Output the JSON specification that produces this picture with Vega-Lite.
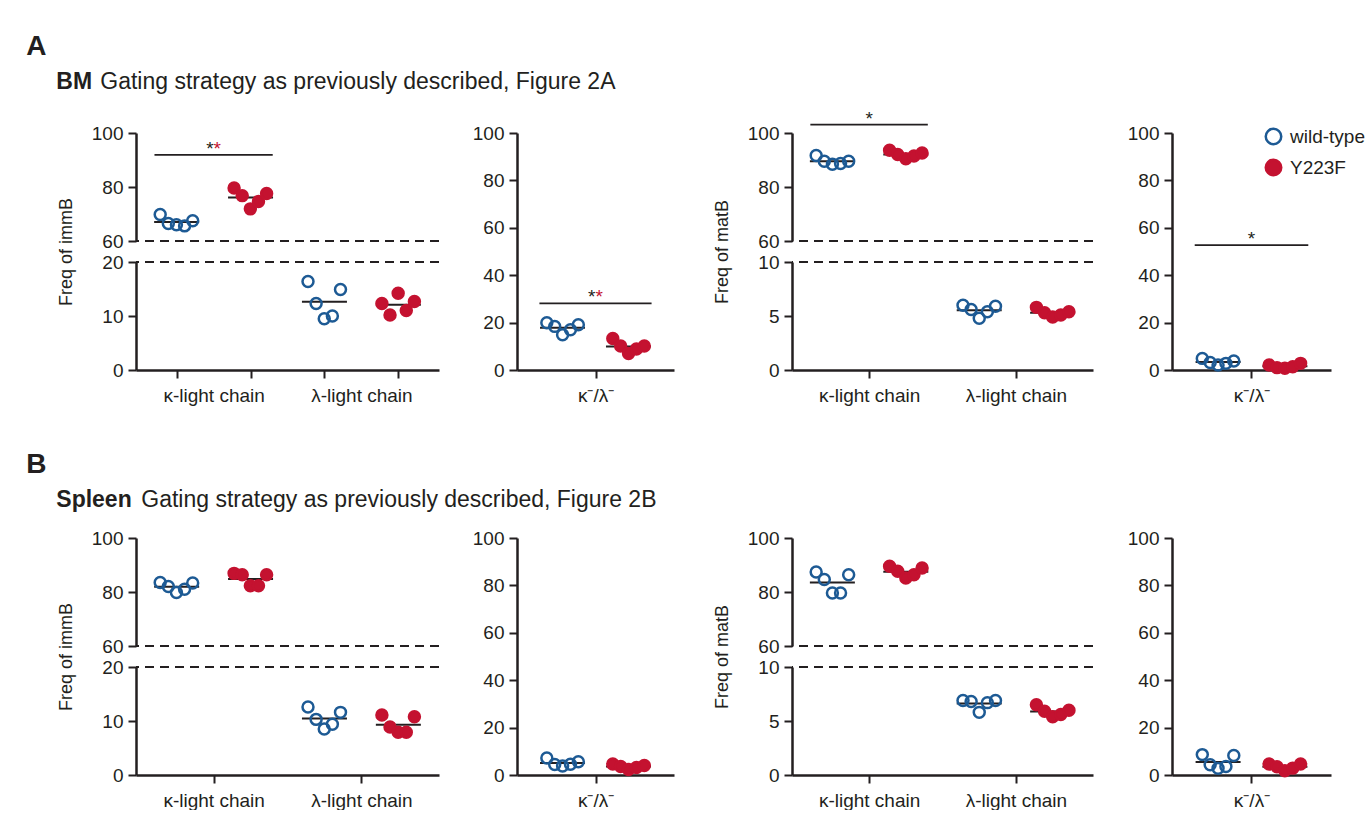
{
  "$schema": "https://vega.github.io/schema/vega-lite/v6.json",
  "padding": {"left": 26, "top": 33, "right": 0, "bottom": 0},
  "background": "white",
  "datasets": {
    "pts": [
      {"tissue":"BM","panel":"immB","chain":"κ-light chain","genotype":"wild-type","group":"κ-light chain|wild-type","mouse":1,"value":69.8},
      {"tissue":"BM","panel":"immB","chain":"κ-light chain","genotype":"wild-type","group":"κ-light chain|wild-type","mouse":2,"value":66.5},
      {"tissue":"BM","panel":"immB","chain":"κ-light chain","genotype":"wild-type","group":"κ-light chain|wild-type","mouse":3,"value":66.0},
      {"tissue":"BM","panel":"immB","chain":"κ-light chain","genotype":"wild-type","group":"κ-light chain|wild-type","mouse":4,"value":65.6},
      {"tissue":"BM","panel":"immB","chain":"κ-light chain","genotype":"wild-type","group":"κ-light chain|wild-type","mouse":5,"value":67.5},
      {"tissue":"BM","panel":"immB","chain":"κ-light chain","genotype":"Y223F","group":"κ-light chain|Y223F","mouse":1,"value":79.6},
      {"tissue":"BM","panel":"immB","chain":"κ-light chain","genotype":"Y223F","group":"κ-light chain|Y223F","mouse":2,"value":76.8},
      {"tissue":"BM","panel":"immB","chain":"κ-light chain","genotype":"Y223F","group":"κ-light chain|Y223F","mouse":3,"value":71.9},
      {"tissue":"BM","panel":"immB","chain":"κ-light chain","genotype":"Y223F","group":"κ-light chain|Y223F","mouse":4,"value":74.6},
      {"tissue":"BM","panel":"immB","chain":"κ-light chain","genotype":"Y223F","group":"κ-light chain|Y223F","mouse":5,"value":77.6},
      {"tissue":"BM","panel":"immB","chain":"λ-light chain","genotype":"wild-type","group":"λ-light chain|wild-type","mouse":1,"value":16.4},
      {"tissue":"BM","panel":"immB","chain":"λ-light chain","genotype":"wild-type","group":"λ-light chain|wild-type","mouse":2,"value":12.3},
      {"tissue":"BM","panel":"immB","chain":"λ-light chain","genotype":"wild-type","group":"λ-light chain|wild-type","mouse":3,"value":9.5},
      {"tissue":"BM","panel":"immB","chain":"λ-light chain","genotype":"wild-type","group":"λ-light chain|wild-type","mouse":4,"value":10.0},
      {"tissue":"BM","panel":"immB","chain":"λ-light chain","genotype":"wild-type","group":"λ-light chain|wild-type","mouse":5,"value":14.9},
      {"tissue":"BM","panel":"immB","chain":"λ-light chain","genotype":"Y223F","group":"λ-light chain|Y223F","mouse":1,"value":12.3},
      {"tissue":"BM","panel":"immB","chain":"λ-light chain","genotype":"Y223F","group":"λ-light chain|Y223F","mouse":2,"value":10.2},
      {"tissue":"BM","panel":"immB","chain":"λ-light chain","genotype":"Y223F","group":"λ-light chain|Y223F","mouse":3,"value":14.2},
      {"tissue":"BM","panel":"immB","chain":"λ-light chain","genotype":"Y223F","group":"λ-light chain|Y223F","mouse":4,"value":11.0},
      {"tissue":"BM","panel":"immB","chain":"λ-light chain","genotype":"Y223F","group":"λ-light chain|Y223F","mouse":5,"value":12.7},
      {"tissue":"BM","panel":"immB","chain":"κ⁻/λ⁻","genotype":"wild-type","group":"κ⁻/λ⁻|wild-type","mouse":1,"value":19.9},
      {"tissue":"BM","panel":"immB","chain":"κ⁻/λ⁻","genotype":"wild-type","group":"κ⁻/λ⁻|wild-type","mouse":2,"value":18.4},
      {"tissue":"BM","panel":"immB","chain":"κ⁻/λ⁻","genotype":"wild-type","group":"κ⁻/λ⁻|wild-type","mouse":3,"value":14.9},
      {"tissue":"BM","panel":"immB","chain":"κ⁻/λ⁻","genotype":"wild-type","group":"κ⁻/λ⁻|wild-type","mouse":4,"value":17.0},
      {"tissue":"BM","panel":"immB","chain":"κ⁻/λ⁻","genotype":"wild-type","group":"κ⁻/λ⁻|wild-type","mouse":5,"value":19.1},
      {"tissue":"BM","panel":"immB","chain":"κ⁻/λ⁻","genotype":"Y223F","group":"κ⁻/λ⁻|Y223F","mouse":1,"value":13.3},
      {"tissue":"BM","panel":"immB","chain":"κ⁻/λ⁻","genotype":"Y223F","group":"κ⁻/λ⁻|Y223F","mouse":2,"value":10.1},
      {"tissue":"BM","panel":"immB","chain":"κ⁻/λ⁻","genotype":"Y223F","group":"κ⁻/λ⁻|Y223F","mouse":3,"value":7.0},
      {"tissue":"BM","panel":"immB","chain":"κ⁻/λ⁻","genotype":"Y223F","group":"κ⁻/λ⁻|Y223F","mouse":4,"value":8.9},
      {"tissue":"BM","panel":"immB","chain":"κ⁻/λ⁻","genotype":"Y223F","group":"κ⁻/λ⁻|Y223F","mouse":5,"value":10.1},

      {"tissue":"BM","panel":"matB","chain":"κ-light chain","genotype":"wild-type","group":"κ-light chain|wild-type","mouse":1,"value":91.7},
      {"tissue":"BM","panel":"matB","chain":"κ-light chain","genotype":"wild-type","group":"κ-light chain|wild-type","mouse":2,"value":89.5},
      {"tissue":"BM","panel":"matB","chain":"κ-light chain","genotype":"wild-type","group":"κ-light chain|wild-type","mouse":3,"value":88.4},
      {"tissue":"BM","panel":"matB","chain":"κ-light chain","genotype":"wild-type","group":"κ-light chain|wild-type","mouse":4,"value":88.7},
      {"tissue":"BM","panel":"matB","chain":"κ-light chain","genotype":"wild-type","group":"κ-light chain|wild-type","mouse":5,"value":89.5},
      {"tissue":"BM","panel":"matB","chain":"κ-light chain","genotype":"Y223F","group":"κ-light chain|Y223F","mouse":1,"value":93.6},
      {"tissue":"BM","panel":"matB","chain":"κ-light chain","genotype":"Y223F","group":"κ-light chain|Y223F","mouse":2,"value":92.0},
      {"tissue":"BM","panel":"matB","chain":"κ-light chain","genotype":"Y223F","group":"κ-light chain|Y223F","mouse":3,"value":90.5},
      {"tissue":"BM","panel":"matB","chain":"κ-light chain","genotype":"Y223F","group":"κ-light chain|Y223F","mouse":4,"value":91.5},
      {"tissue":"BM","panel":"matB","chain":"κ-light chain","genotype":"Y223F","group":"κ-light chain|Y223F","mouse":5,"value":92.6},
      {"tissue":"BM","panel":"matB","chain":"λ-light chain","genotype":"wild-type","group":"λ-light chain|wild-type","mouse":1,"value":6.0},
      {"tissue":"BM","panel":"matB","chain":"λ-light chain","genotype":"wild-type","group":"λ-light chain|wild-type","mouse":2,"value":5.6},
      {"tissue":"BM","panel":"matB","chain":"λ-light chain","genotype":"wild-type","group":"λ-light chain|wild-type","mouse":3,"value":4.8},
      {"tissue":"BM","panel":"matB","chain":"λ-light chain","genotype":"wild-type","group":"λ-light chain|wild-type","mouse":4,"value":5.4},
      {"tissue":"BM","panel":"matB","chain":"λ-light chain","genotype":"wild-type","group":"λ-light chain|wild-type","mouse":5,"value":5.9},
      {"tissue":"BM","panel":"matB","chain":"λ-light chain","genotype":"Y223F","group":"λ-light chain|Y223F","mouse":1,"value":5.8},
      {"tissue":"BM","panel":"matB","chain":"λ-light chain","genotype":"Y223F","group":"λ-light chain|Y223F","mouse":2,"value":5.3},
      {"tissue":"BM","panel":"matB","chain":"λ-light chain","genotype":"Y223F","group":"λ-light chain|Y223F","mouse":3,"value":4.9},
      {"tissue":"BM","panel":"matB","chain":"λ-light chain","genotype":"Y223F","group":"λ-light chain|Y223F","mouse":4,"value":5.1},
      {"tissue":"BM","panel":"matB","chain":"λ-light chain","genotype":"Y223F","group":"λ-light chain|Y223F","mouse":5,"value":5.4},
      {"tissue":"BM","panel":"matB","chain":"κ⁻/λ⁻","genotype":"wild-type","group":"κ⁻/λ⁻|wild-type","mouse":1,"value":4.9},
      {"tissue":"BM","panel":"matB","chain":"κ⁻/λ⁻","genotype":"wild-type","group":"κ⁻/λ⁻|wild-type","mouse":2,"value":3.2},
      {"tissue":"BM","panel":"matB","chain":"κ⁻/λ⁻","genotype":"wild-type","group":"κ⁻/λ⁻|wild-type","mouse":3,"value":2.1},
      {"tissue":"BM","panel":"matB","chain":"κ⁻/λ⁻","genotype":"wild-type","group":"κ⁻/λ⁻|wild-type","mouse":4,"value":2.8},
      {"tissue":"BM","panel":"matB","chain":"κ⁻/λ⁻","genotype":"wild-type","group":"κ⁻/λ⁻|wild-type","mouse":5,"value":3.8},
      {"tissue":"BM","panel":"matB","chain":"κ⁻/λ⁻","genotype":"Y223F","group":"κ⁻/λ⁻|Y223F","mouse":1,"value":2.1},
      {"tissue":"BM","panel":"matB","chain":"κ⁻/λ⁻","genotype":"Y223F","group":"κ⁻/λ⁻|Y223F","mouse":2,"value":1.0},
      {"tissue":"BM","panel":"matB","chain":"κ⁻/λ⁻","genotype":"Y223F","group":"κ⁻/λ⁻|Y223F","mouse":3,"value":0.7},
      {"tissue":"BM","panel":"matB","chain":"κ⁻/λ⁻","genotype":"Y223F","group":"κ⁻/λ⁻|Y223F","mouse":4,"value":1.4},
      {"tissue":"BM","panel":"matB","chain":"κ⁻/λ⁻","genotype":"Y223F","group":"κ⁻/λ⁻|Y223F","mouse":5,"value":2.8},

      {"tissue":"Spleen","panel":"immB","chain":"κ-light chain","genotype":"wild-type","group":"κ-light chain|wild-type","mouse":1,"value":83.5},
      {"tissue":"Spleen","panel":"immB","chain":"κ-light chain","genotype":"wild-type","group":"κ-light chain|wild-type","mouse":2,"value":82.0},
      {"tissue":"Spleen","panel":"immB","chain":"κ-light chain","genotype":"wild-type","group":"κ-light chain|wild-type","mouse":3,"value":79.8},
      {"tissue":"Spleen","panel":"immB","chain":"κ-light chain","genotype":"wild-type","group":"κ-light chain|wild-type","mouse":4,"value":81.0},
      {"tissue":"Spleen","panel":"immB","chain":"κ-light chain","genotype":"wild-type","group":"κ-light chain|wild-type","mouse":5,"value":83.3},
      {"tissue":"Spleen","panel":"immB","chain":"κ-light chain","genotype":"Y223F","group":"κ-light chain|Y223F","mouse":1,"value":86.9},
      {"tissue":"Spleen","panel":"immB","chain":"κ-light chain","genotype":"Y223F","group":"κ-light chain|Y223F","mouse":2,"value":86.4},
      {"tissue":"Spleen","panel":"immB","chain":"κ-light chain","genotype":"Y223F","group":"κ-light chain|Y223F","mouse":3,"value":82.3},
      {"tissue":"Spleen","panel":"immB","chain":"κ-light chain","genotype":"Y223F","group":"κ-light chain|Y223F","mouse":4,"value":82.3},
      {"tissue":"Spleen","panel":"immB","chain":"κ-light chain","genotype":"Y223F","group":"κ-light chain|Y223F","mouse":5,"value":86.4},
      {"tissue":"Spleen","panel":"immB","chain":"λ-light chain","genotype":"wild-type","group":"λ-light chain|wild-type","mouse":1,"value":12.6},
      {"tissue":"Spleen","panel":"immB","chain":"λ-light chain","genotype":"wild-type","group":"λ-light chain|wild-type","mouse":2,"value":10.3},
      {"tissue":"Spleen","panel":"immB","chain":"λ-light chain","genotype":"wild-type","group":"λ-light chain|wild-type","mouse":3,"value":8.5},
      {"tissue":"Spleen","panel":"immB","chain":"λ-light chain","genotype":"wild-type","group":"λ-light chain|wild-type","mouse":4,"value":9.4},
      {"tissue":"Spleen","panel":"immB","chain":"λ-light chain","genotype":"wild-type","group":"λ-light chain|wild-type","mouse":5,"value":11.6},
      {"tissue":"Spleen","panel":"immB","chain":"λ-light chain","genotype":"Y223F","group":"λ-light chain|Y223F","mouse":1,"value":11.1},
      {"tissue":"Spleen","panel":"immB","chain":"λ-light chain","genotype":"Y223F","group":"λ-light chain|Y223F","mouse":2,"value":8.9},
      {"tissue":"Spleen","panel":"immB","chain":"λ-light chain","genotype":"Y223F","group":"λ-light chain|Y223F","mouse":3,"value":7.9},
      {"tissue":"Spleen","panel":"immB","chain":"λ-light chain","genotype":"Y223F","group":"λ-light chain|Y223F","mouse":4,"value":7.9},
      {"tissue":"Spleen","panel":"immB","chain":"λ-light chain","genotype":"Y223F","group":"λ-light chain|Y223F","mouse":5,"value":10.8},
      {"tissue":"Spleen","panel":"immB","chain":"κ⁻/λ⁻","genotype":"wild-type","group":"κ⁻/λ⁻|wild-type","mouse":1,"value":7.2},
      {"tissue":"Spleen","panel":"immB","chain":"κ⁻/λ⁻","genotype":"wild-type","group":"κ⁻/λ⁻|wild-type","mouse":2,"value":4.4},
      {"tissue":"Spleen","panel":"immB","chain":"κ⁻/λ⁻","genotype":"wild-type","group":"κ⁻/λ⁻|wild-type","mouse":3,"value":3.8},
      {"tissue":"Spleen","panel":"immB","chain":"κ⁻/λ⁻","genotype":"wild-type","group":"κ⁻/λ⁻|wild-type","mouse":4,"value":4.5},
      {"tissue":"Spleen","panel":"immB","chain":"κ⁻/λ⁻","genotype":"wild-type","group":"κ⁻/λ⁻|wild-type","mouse":5,"value":5.6},
      {"tissue":"Spleen","panel":"immB","chain":"κ⁻/λ⁻","genotype":"Y223F","group":"κ⁻/λ⁻|Y223F","mouse":1,"value":4.6},
      {"tissue":"Spleen","panel":"immB","chain":"κ⁻/λ⁻","genotype":"Y223F","group":"κ⁻/λ⁻|Y223F","mouse":2,"value":3.6},
      {"tissue":"Spleen","panel":"immB","chain":"κ⁻/λ⁻","genotype":"Y223F","group":"κ⁻/λ⁻|Y223F","mouse":3,"value":2.3},
      {"tissue":"Spleen","panel":"immB","chain":"κ⁻/λ⁻","genotype":"Y223F","group":"κ⁻/λ⁻|Y223F","mouse":4,"value":3.2},
      {"tissue":"Spleen","panel":"immB","chain":"κ⁻/λ⁻","genotype":"Y223F","group":"κ⁻/λ⁻|Y223F","mouse":5,"value":4.0},

      {"tissue":"Spleen","panel":"matB","chain":"κ-light chain","genotype":"wild-type","group":"κ-light chain|wild-type","mouse":1,"value":87.4},
      {"tissue":"Spleen","panel":"matB","chain":"κ-light chain","genotype":"wild-type","group":"κ-light chain|wild-type","mouse":2,"value":84.6},
      {"tissue":"Spleen","panel":"matB","chain":"κ-light chain","genotype":"wild-type","group":"κ-light chain|wild-type","mouse":3,"value":79.6},
      {"tissue":"Spleen","panel":"matB","chain":"κ-light chain","genotype":"wild-type","group":"κ-light chain|wild-type","mouse":4,"value":79.6},
      {"tissue":"Spleen","panel":"matB","chain":"κ-light chain","genotype":"wild-type","group":"κ-light chain|wild-type","mouse":5,"value":86.4},
      {"tissue":"Spleen","panel":"matB","chain":"κ-light chain","genotype":"Y223F","group":"κ-light chain|Y223F","mouse":1,"value":89.5},
      {"tissue":"Spleen","panel":"matB","chain":"κ-light chain","genotype":"Y223F","group":"κ-light chain|Y223F","mouse":2,"value":87.7},
      {"tissue":"Spleen","panel":"matB","chain":"κ-light chain","genotype":"Y223F","group":"κ-light chain|Y223F","mouse":3,"value":85.2},
      {"tissue":"Spleen","panel":"matB","chain":"κ-light chain","genotype":"Y223F","group":"κ-light chain|Y223F","mouse":4,"value":86.4},
      {"tissue":"Spleen","panel":"matB","chain":"κ-light chain","genotype":"Y223F","group":"κ-light chain|Y223F","mouse":5,"value":88.9},
      {"tissue":"Spleen","panel":"matB","chain":"λ-light chain","genotype":"wild-type","group":"λ-light chain|wild-type","mouse":1,"value":6.9},
      {"tissue":"Spleen","panel":"matB","chain":"λ-light chain","genotype":"wild-type","group":"λ-light chain|wild-type","mouse":2,"value":6.8},
      {"tissue":"Spleen","panel":"matB","chain":"λ-light chain","genotype":"wild-type","group":"λ-light chain|wild-type","mouse":3,"value":5.8},
      {"tissue":"Spleen","panel":"matB","chain":"λ-light chain","genotype":"wild-type","group":"λ-light chain|wild-type","mouse":4,"value":6.7},
      {"tissue":"Spleen","panel":"matB","chain":"λ-light chain","genotype":"wild-type","group":"λ-light chain|wild-type","mouse":5,"value":6.9},
      {"tissue":"Spleen","panel":"matB","chain":"λ-light chain","genotype":"Y223F","group":"λ-light chain|Y223F","mouse":1,"value":6.5},
      {"tissue":"Spleen","panel":"matB","chain":"λ-light chain","genotype":"Y223F","group":"λ-light chain|Y223F","mouse":2,"value":5.9},
      {"tissue":"Spleen","panel":"matB","chain":"λ-light chain","genotype":"Y223F","group":"λ-light chain|Y223F","mouse":3,"value":5.4},
      {"tissue":"Spleen","panel":"matB","chain":"λ-light chain","genotype":"Y223F","group":"λ-light chain|Y223F","mouse":4,"value":5.6},
      {"tissue":"Spleen","panel":"matB","chain":"λ-light chain","genotype":"Y223F","group":"λ-light chain|Y223F","mouse":5,"value":6.0},
      {"tissue":"Spleen","panel":"matB","chain":"κ⁻/λ⁻","genotype":"wild-type","group":"κ⁻/λ⁻|wild-type","mouse":1,"value":8.6},
      {"tissue":"Spleen","panel":"matB","chain":"κ⁻/λ⁻","genotype":"wild-type","group":"κ⁻/λ⁻|wild-type","mouse":2,"value":4.3},
      {"tissue":"Spleen","panel":"matB","chain":"κ⁻/λ⁻","genotype":"wild-type","group":"κ⁻/λ⁻|wild-type","mouse":3,"value":2.8},
      {"tissue":"Spleen","panel":"matB","chain":"κ⁻/λ⁻","genotype":"wild-type","group":"κ⁻/λ⁻|wild-type","mouse":4,"value":3.6},
      {"tissue":"Spleen","panel":"matB","chain":"κ⁻/λ⁻","genotype":"wild-type","group":"κ⁻/λ⁻|wild-type","mouse":5,"value":8.2},
      {"tissue":"Spleen","panel":"matB","chain":"κ⁻/λ⁻","genotype":"Y223F","group":"κ⁻/λ⁻|Y223F","mouse":1,"value":4.6},
      {"tissue":"Spleen","panel":"matB","chain":"κ⁻/λ⁻","genotype":"Y223F","group":"κ⁻/λ⁻|Y223F","mouse":2,"value":3.5},
      {"tissue":"Spleen","panel":"matB","chain":"κ⁻/λ⁻","genotype":"Y223F","group":"κ⁻/λ⁻|Y223F","mouse":3,"value":1.8},
      {"tissue":"Spleen","panel":"matB","chain":"κ⁻/λ⁻","genotype":"Y223F","group":"κ⁻/λ⁻|Y223F","mouse":4,"value":2.9},
      {"tissue":"Spleen","panel":"matB","chain":"κ⁻/λ⁻","genotype":"Y223F","group":"κ⁻/λ⁻|Y223F","mouse":5,"value":4.6}
    ],
    "ann": [
      {"tissue":"BM","panel":"immB","scope":"chains","from":"κ-light chain|wild-type","to":"κ-light chain|Y223F","y":91.9,"black":"*","red":"*"},
      {"tissue":"BM","panel":"immB","scope":"ratio","from":"κ⁻/λ⁻|wild-type","to":"κ⁻/λ⁻|Y223F","y":28.1,"black":"*","red":"*"},
      {"tissue":"BM","panel":"matB","scope":"chains","from":"κ-light chain|wild-type","to":"κ-light chain|Y223F","y":103.1,"black":"*","red":""},
      {"tissue":"BM","panel":"matB","scope":"ratio","from":"κ⁻/λ⁻|wild-type","to":"κ⁻/λ⁻|Y223F","y":52.7,"black":"*","red":""}
    ]
  },
  "resolve": {"scale": {"x": "independent", "y": "independent", "xOffset": "independent", "stroke": "independent", "fill": "independent"}},
  "spacing": 46,
  "vconcat": [
    {
      "title": {"text": "A", "anchor": "start", "fontSize": 28, "fontWeight": "bold", "dx": -30, "offset": 10},
      "resolve": {"scale": {"x": "independent", "y": "independent", "xOffset": "independent", "stroke": "independent", "fill": "independent"}},
      "vconcat": [
        {
          "title": {"text": "BM", "anchor": "start", "fontSize": 23, "fontWeight": "bold", "dx": -1, "dy": 23, "offset": 0},
          "resolve": {"scale": {"x": "independent", "y": "independent", "xOffset": "independent", "stroke": "independent", "fill": "independent"}},
          "vconcat": [
            {
              "title": {"text": "Gating strategy as previously described, Figure 2A", "anchor": "start", "fontSize": 23, "fontWeight": "normal", "dx": 43, "offset": 12},
              "resolve": {"scale": {"x": "independent", "y": "independent", "xOffset": "independent", "stroke": "independent", "fill": "independent"}},
              "spacing": 39,
              "hconcat": [
                {
                  "resolve": {"scale": {"x": "independent", "y": "independent", "xOffset": "independent", "stroke": "independent", "fill": "independent"}},
                  "spacing": 32,
                  "hconcat": [
                    {
                      "width": 303, "height": 264,
                      "layer": [
                        {"data": {"values": [{"cut": 20}, {"cut": 60}]},
                         "mark": {"type": "rule", "strokeDash": [9, 6], "strokeWidth": 2, "color": "#231f20"},
                         "encoding": {"y": {"field": "cut", "type": "quantitative", "scale": {"domain": [0, 20, 60, 110], "range": [264, 156, 135, 0], "zero": false, "nice": false}, "axis": {"values": [0, 10, 20, 60, 80, 100], "domainDash": [108, 21, 108, 100], "title": "Freq of immB", "titleY": 145.5}}}},
                        {"data": {"name": "pts"}, "transform": [{"filter": "datum.tissue == 'BM' && datum.panel == 'immB' && datum.chain != 'κ⁻/λ⁻'"}],
                         "mark": {"type": "tick", "size": 45, "thickness": 2, "color": "#231f20"},
                         "encoding": {"x": {"field": "group", "type": "nominal", "scale": {"domain": ["κ-light chain|wild-type", "κ-light chain|Y223F", "λ-light chain|wild-type", "λ-light chain|Y223F"], "paddingInner": 0, "paddingOuter": 0.05}, "axis": {"values": ["κ-light chain|wild-type", "κ-light chain|Y223F", "λ-light chain|wild-type", "λ-light chain|Y223F"], "labelExpr": "split(datum.value, '|')[1] == 'wild-type' ? split(datum.value, '|')[0] : ''", "labelOffset": 37, "tickOffset": 0, "title": null}},
                                      "y": {"aggregate": "mean", "field": "value", "type": "quantitative"}}},
                        {"data": {"name": "pts"}, "transform": [{"filter": "datum.tissue == 'BM' && datum.panel == 'immB' && datum.chain != 'κ⁻/λ⁻'"}],
                         "mark": {"type": "point", "shape": "circle", "size": 120, "strokeWidth": 2.5, "opacity": 1},
                         "encoding": {"x": {"field": "group", "type": "nominal"}, "xOffset": {"field": "mouse", "type": "nominal", "scale": {"range": [20.5, 53], "paddingInner": 0, "paddingOuter": 0}}, "y": {"field": "value", "type": "quantitative"},
                                      "stroke": {"field": "genotype", "type": "nominal", "scale": {"domain": ["wild-type", "Y223F"], "range": ["#1d5a94", "#c41230"]}, "legend": null},
                                      "fill": {"field": "genotype", "type": "nominal", "scale": {"domain": ["wild-type", "Y223F"], "range": ["transparent", "#c41230"]}, "legend": null}}},
                        {"data": {"name": "ann"}, "transform": [{"filter": "datum.tissue == 'BM' && datum.panel == 'immB' && datum.scope == 'chains'"}],
                         "mark": {"type": "rule", "strokeWidth": 1.8, "color": "#231f20"},
                         "encoding": {"x": {"field": "from", "type": "nominal", "bandPosition": 0.2}, "x2": {"field": "to", "bandPosition": 0.8}, "y": {"field": "y", "type": "quantitative"}}},
                        {"data": {"name": "ann"}, "transform": [{"filter": "datum.tissue == 'BM' && datum.panel == 'immB' && datum.scope == 'chains'"}],
                         "mark": {"type": "text", "fontSize": 19, "baseline": "alphabetic", "align": "right", "color": "#231f20"},
                         "encoding": {"x": {"field": "from", "type": "nominal", "bandPosition": 1}, "y": {"field": "y", "type": "quantitative"}, "text": {"field": "black"}}},
                        {"data": {"name": "ann"}, "transform": [{"filter": "datum.tissue == 'BM' && datum.panel == 'immB' && datum.scope == 'chains'"}],
                         "mark": {"type": "text", "fontSize": 19, "baseline": "alphabetic", "align": "left", "color": "#c41230"},
                         "encoding": {"x": {"field": "from", "type": "nominal", "bandPosition": 1}, "y": {"field": "y", "type": "quantitative"}, "text": {"field": "red"}}}
                      ]
                    },
                    {
                      "width": 157, "height": 264,
                      "layer": [
                        {"data": {"name": "pts"}, "transform": [{"filter": "datum.tissue == 'BM' && datum.panel == 'immB' && datum.chain == 'κ⁻/λ⁻'"}],
                         "mark": {"type": "tick", "size": 45, "thickness": 2, "color": "#231f20"},
                         "encoding": {"x": {"field": "group", "type": "nominal", "scale": {"domain": ["κ⁻/λ⁻|wild-type", "κ⁻/λ⁻|Y223F"], "paddingInner": 0, "paddingOuter": 0.19}, "axis": {"values": ["κ⁻/λ⁻|wild-type"], "labelExpr": "split(datum.value, '|')[0]", "tickOffset": 33, "title": null}},
                                      "y": {"aggregate": "mean", "field": "value", "type": "quantitative", "scale": {"domain": [0, 100, 110], "range": [264, 27, 0], "zero": false, "nice": false}, "axis": {"values": [0, 20, 40, 60, 80, 100], "domainDash": [237, 100], "title": null}}}},
                        {"data": {"name": "pts"}, "transform": [{"filter": "datum.tissue == 'BM' && datum.panel == 'immB' && datum.chain == 'κ⁻/λ⁻'"}],
                         "mark": {"type": "point", "shape": "circle", "size": 120, "strokeWidth": 2.5, "opacity": 1},
                         "encoding": {"x": {"field": "group", "type": "nominal"}, "xOffset": {"field": "mouse", "type": "nominal", "scale": {"range": [17.3, 48.8], "paddingInner": 0, "paddingOuter": 0}}, "y": {"field": "value", "type": "quantitative"},
                                      "stroke": {"field": "genotype", "type": "nominal", "scale": {"domain": ["wild-type", "Y223F"], "range": ["#1d5a94", "#c41230"]}, "legend": null},
                                      "fill": {"field": "genotype", "type": "nominal", "scale": {"domain": ["wild-type", "Y223F"], "range": ["transparent", "#c41230"]}, "legend": null}}},
                        {"data": {"name": "ann"}, "transform": [{"filter": "datum.tissue == 'BM' && datum.panel == 'immB' && datum.scope == 'ratio'"}],
                         "mark": {"type": "rule", "strokeWidth": 1.8, "color": "#231f20"},
                         "encoding": {"x": {"field": "from", "type": "nominal", "bandPosition": 0.15}, "x2": {"field": "to", "bandPosition": 0.85}, "y": {"field": "y", "type": "quantitative"}}},
                        {"data": {"name": "ann"}, "transform": [{"filter": "datum.tissue == 'BM' && datum.panel == 'immB' && datum.scope == 'ratio'"}],
                         "mark": {"type": "text", "fontSize": 19, "baseline": "alphabetic", "align": "right", "color": "#231f20"},
                         "encoding": {"x": {"field": "from", "type": "nominal", "bandPosition": 1}, "y": {"field": "y", "type": "quantitative"}, "text": {"field": "black"}}},
                        {"data": {"name": "ann"}, "transform": [{"filter": "datum.tissue == 'BM' && datum.panel == 'immB' && datum.scope == 'ratio'"}],
                         "mark": {"type": "text", "fontSize": 19, "baseline": "alphabetic", "align": "left", "color": "#c41230"},
                         "encoding": {"x": {"field": "from", "type": "nominal", "bandPosition": 1}, "y": {"field": "y", "type": "quantitative"}, "text": {"field": "red"}}}
                      ]
                    }
                  ]
                },
                {
                  "resolve": {"scale": {"x": "independent", "y": "independent", "xOffset": "independent", "stroke": "independent", "fill": "independent"}},
                  "spacing": 33,
                  "hconcat": [
                    {
                      "width": 301, "height": 264,
                      "layer": [
                        {"data": {"values": [{"cut": 10}, {"cut": 60}]},
                         "mark": {"type": "rule", "strokeDash": [9, 6], "strokeWidth": 2, "color": "#231f20"},
                         "encoding": {"y": {"field": "cut", "type": "quantitative", "scale": {"domain": [0, 10, 60, 110], "range": [264, 156, 135, 0], "zero": false, "nice": false}, "axis": {"values": [0, 5, 10, 60, 80, 100], "domainDash": [108, 21, 108, 100], "title": "Freq of matB", "titleY": 145.5}}}},
                        {"data": {"name": "pts"}, "transform": [{"filter": "datum.tissue == 'BM' && datum.panel == 'matB' && datum.chain != 'κ⁻/λ⁻'"}],
                         "mark": {"type": "tick", "size": 45, "thickness": 2, "color": "#231f20"},
                         "encoding": {"x": {"field": "group", "type": "nominal", "scale": {"domain": ["κ-light chain|wild-type", "κ-light chain|Y223F", "λ-light chain|wild-type", "λ-light chain|Y223F"], "paddingInner": 0, "paddingOuter": 0.05}, "axis": {"values": ["κ-light chain|wild-type", "λ-light chain|wild-type"], "labelExpr": "split(datum.value, '|')[0]", "tickOffset": 36.7, "title": null}},
                                      "y": {"aggregate": "mean", "field": "value", "type": "quantitative"}}},
                        {"data": {"name": "pts"}, "transform": [{"filter": "datum.tissue == 'BM' && datum.panel == 'matB' && datum.chain != 'κ⁻/λ⁻'"}],
                         "mark": {"type": "point", "shape": "circle", "size": 120, "strokeWidth": 2.5, "opacity": 1},
                         "encoding": {"x": {"field": "group", "type": "nominal"}, "xOffset": {"field": "mouse", "type": "nominal", "scale": {"range": [20.5, 53], "paddingInner": 0, "paddingOuter": 0}}, "y": {"field": "value", "type": "quantitative"},
                                      "stroke": {"field": "genotype", "type": "nominal", "scale": {"domain": ["wild-type", "Y223F"], "range": ["#1d5a94", "#c41230"]}, "legend": null},
                                      "fill": {"field": "genotype", "type": "nominal", "scale": {"domain": ["wild-type", "Y223F"], "range": ["transparent", "#c41230"]}, "legend": null}}},
                        {"data": {"name": "ann"}, "transform": [{"filter": "datum.tissue == 'BM' && datum.panel == 'matB' && datum.scope == 'chains'"}],
                         "mark": {"type": "rule", "strokeWidth": 1.8, "color": "#231f20"},
                         "encoding": {"x": {"field": "from", "type": "nominal", "bandPosition": 0.2}, "x2": {"field": "to", "bandPosition": 0.8}, "y": {"field": "y", "type": "quantitative"}}},
                        {"data": {"name": "ann"}, "transform": [{"filter": "datum.tissue == 'BM' && datum.panel == 'matB' && datum.scope == 'chains'"}],
                         "mark": {"type": "text", "fontSize": 19, "baseline": "alphabetic", "align": "center", "color": "#231f20"},
                         "encoding": {"x": {"field": "from", "type": "nominal", "bandPosition": 1}, "y": {"field": "y", "type": "quantitative"}, "text": {"field": "black"}}}
                      ]
                    },
                    {
                      "width": 159, "height": 264,
                      "layer": [
                        {"data": {"name": "pts"}, "transform": [{"filter": "datum.tissue == 'BM' && datum.panel == 'matB' && datum.chain == 'κ⁻/λ⁻'"}],
                         "mark": {"type": "tick", "size": 45, "thickness": 2, "color": "#231f20"},
                         "encoding": {"x": {"field": "group", "type": "nominal", "scale": {"domain": ["κ⁻/λ⁻|wild-type", "κ⁻/λ⁻|Y223F"], "paddingInner": 0, "paddingOuter": 0.19}, "axis": {"values": ["κ⁻/λ⁻|wild-type"], "labelExpr": "split(datum.value, '|')[0]", "tickOffset": 33.4, "title": null}},
                                      "y": {"aggregate": "mean", "field": "value", "type": "quantitative", "scale": {"domain": [0, 100, 110], "range": [264, 27, 0], "zero": false, "nice": false}, "axis": {"values": [0, 20, 40, 60, 80, 100], "domainDash": [237, 100], "title": null}}}},
                        {"data": {"name": "pts"}, "transform": [{"filter": "datum.tissue == 'BM' && datum.panel == 'matB' && datum.chain == 'κ⁻/λ⁻'"}],
                         "mark": {"type": "point", "shape": "circle", "size": 120, "strokeWidth": 2.5, "opacity": 1},
                         "encoding": {"x": {"field": "group", "type": "nominal"}, "xOffset": {"field": "mouse", "type": "nominal", "scale": {"range": [17.6, 49.1], "paddingInner": 0, "paddingOuter": 0}}, "y": {"field": "value", "type": "quantitative"},
                                      "stroke": {"field": "genotype", "type": "nominal", "scale": {"domain": ["wild-type", "Y223F"], "range": ["#1d5a94", "#c41230"]}, "legend": {"title": null, "orient": "none", "legendX": 92, "legendY": 21, "symbolSize": 240, "symbolStrokeWidth": 2.5, "labelFontSize": 19, "labelOffset": 7, "rowPadding": 4, "padding": 0, "labelColor": "#231f20"}},
                                      "fill": {"field": "genotype", "type": "nominal", "scale": {"domain": ["wild-type", "Y223F"], "range": ["transparent", "#c41230"]}, "legend": {"title": null, "orient": "none", "legendX": 92, "legendY": 21, "symbolSize": 240, "symbolStrokeWidth": 2.5, "labelFontSize": 19, "labelOffset": 7, "rowPadding": 4, "padding": 0, "labelColor": "#231f20"}}}},
                        {"data": {"name": "ann"}, "transform": [{"filter": "datum.tissue == 'BM' && datum.panel == 'matB' && datum.scope == 'ratio'"}],
                         "mark": {"type": "rule", "strokeWidth": 1.8, "color": "#231f20"},
                         "encoding": {"x": {"field": "from", "type": "nominal", "bandPosition": 0.15}, "x2": {"field": "to", "bandPosition": 0.85}, "y": {"field": "y", "type": "quantitative"}}},
                        {"data": {"name": "ann"}, "transform": [{"filter": "datum.tissue == 'BM' && datum.panel == 'matB' && datum.scope == 'ratio'"}],
                         "mark": {"type": "text", "fontSize": 19, "baseline": "alphabetic", "align": "center", "color": "#231f20"},
                         "encoding": {"x": {"field": "from", "type": "nominal", "bandPosition": 1}, "y": {"field": "y", "type": "quantitative"}, "text": {"field": "black"}}}
                      ]
                    }
                  ]
                }
              ]
            }
          ]
        }
      ]
    },
    {
      "title": {"text": "B", "anchor": "start", "fontSize": 28, "fontWeight": "bold", "dx": -30, "offset": 10},
      "resolve": {"scale": {"x": "independent", "y": "independent", "xOffset": "independent", "stroke": "independent", "fill": "independent"}},
      "vconcat": [
        {
          "title": {"text": "Spleen", "anchor": "start", "fontSize": 23, "fontWeight": "bold", "dx": -1, "dy": 23, "offset": 0},
          "resolve": {"scale": {"x": "independent", "y": "independent", "xOffset": "independent", "stroke": "independent", "fill": "independent"}},
          "vconcat": [
            {
              "title": {"text": "Gating strategy as previously described, Figure 2B", "anchor": "start", "fontSize": 23, "fontWeight": "normal", "dx": 84, "offset": -1},
              "resolve": {"scale": {"x": "independent", "y": "independent", "xOffset": "independent", "stroke": "independent", "fill": "independent"}},
              "spacing": 39,
              "hconcat": [
                {
                  "resolve": {"scale": {"x": "independent", "y": "independent", "xOffset": "independent", "stroke": "independent", "fill": "independent"}},
                  "spacing": 32,
                  "hconcat": [
                    {
                      "width": 303, "height": 264,
                      "layer": [
                        {"data": {"values": [{"cut": 20}, {"cut": 60}]},
                         "mark": {"type": "rule", "strokeDash": [9, 6], "strokeWidth": 2, "color": "#231f20"},
                         "encoding": {"y": {"field": "cut", "type": "quantitative", "scale": {"domain": [0, 20, 60, 110], "range": [264, 156, 135, 0], "zero": false, "nice": false}, "axis": {"values": [0, 10, 20, 60, 80, 100], "domainDash": [108, 21, 108, 100], "title": "Freq of immB", "titleY": 145.5}}}},
                        {"data": {"name": "pts"}, "transform": [{"filter": "datum.tissue == 'Spleen' && datum.panel == 'immB' && datum.chain != 'κ⁻/λ⁻'"}],
                         "mark": {"type": "tick", "size": 45, "thickness": 2, "color": "#231f20"},
                         "encoding": {"x": {"field": "group", "type": "nominal", "scale": {"domain": ["κ-light chain|wild-type", "κ-light chain|Y223F", "λ-light chain|wild-type", "λ-light chain|Y223F"], "paddingInner": 0, "paddingOuter": 0.05}, "axis": {"values": ["κ-light chain|wild-type", "λ-light chain|wild-type"], "labelExpr": "split(datum.value, '|')[0]", "tickOffset": 37, "title": null}},
                                      "y": {"aggregate": "mean", "field": "value", "type": "quantitative"}}},
                        {"data": {"name": "pts"}, "transform": [{"filter": "datum.tissue == 'Spleen' && datum.panel == 'immB' && datum.chain != 'κ⁻/λ⁻'"}],
                         "mark": {"type": "point", "shape": "circle", "size": 120, "strokeWidth": 2.5, "opacity": 1},
                         "encoding": {"x": {"field": "group", "type": "nominal"}, "xOffset": {"field": "mouse", "type": "nominal", "scale": {"range": [20.5, 53], "paddingInner": 0, "paddingOuter": 0}}, "y": {"field": "value", "type": "quantitative"},
                                      "stroke": {"field": "genotype", "type": "nominal", "scale": {"domain": ["wild-type", "Y223F"], "range": ["#1d5a94", "#c41230"]}, "legend": null},
                                      "fill": {"field": "genotype", "type": "nominal", "scale": {"domain": ["wild-type", "Y223F"], "range": ["transparent", "#c41230"]}, "legend": null}}}
                      ]
                    },
                    {
                      "width": 157, "height": 264,
                      "layer": [
                        {"data": {"name": "pts"}, "transform": [{"filter": "datum.tissue == 'Spleen' && datum.panel == 'immB' && datum.chain == 'κ⁻/λ⁻'"}],
                         "mark": {"type": "tick", "size": 45, "thickness": 2, "color": "#231f20"},
                         "encoding": {"x": {"field": "group", "type": "nominal", "scale": {"domain": ["κ⁻/λ⁻|wild-type", "κ⁻/λ⁻|Y223F"], "paddingInner": 0, "paddingOuter": 0.19}, "axis": {"values": ["κ⁻/λ⁻|wild-type"], "labelExpr": "split(datum.value, '|')[0]", "tickOffset": 33, "title": null}},
                                      "y": {"aggregate": "mean", "field": "value", "type": "quantitative", "scale": {"domain": [0, 100, 110], "range": [264, 27, 0], "zero": false, "nice": false}, "axis": {"values": [0, 20, 40, 60, 80, 100], "domainDash": [237, 100], "title": null}}}},
                        {"data": {"name": "pts"}, "transform": [{"filter": "datum.tissue == 'Spleen' && datum.panel == 'immB' && datum.chain == 'κ⁻/λ⁻'"}],
                         "mark": {"type": "point", "shape": "circle", "size": 120, "strokeWidth": 2.5, "opacity": 1},
                         "encoding": {"x": {"field": "group", "type": "nominal"}, "xOffset": {"field": "mouse", "type": "nominal", "scale": {"range": [17.3, 48.8], "paddingInner": 0, "paddingOuter": 0}}, "y": {"field": "value", "type": "quantitative"},
                                      "stroke": {"field": "genotype", "type": "nominal", "scale": {"domain": ["wild-type", "Y223F"], "range": ["#1d5a94", "#c41230"]}, "legend": null},
                                      "fill": {"field": "genotype", "type": "nominal", "scale": {"domain": ["wild-type", "Y223F"], "range": ["transparent", "#c41230"]}, "legend": null}}}
                      ]
                    }
                  ]
                },
                {
                  "resolve": {"scale": {"x": "independent", "y": "independent", "xOffset": "independent", "stroke": "independent", "fill": "independent"}},
                  "spacing": 33,
                  "hconcat": [
                    {
                      "width": 301, "height": 264,
                      "layer": [
                        {"data": {"values": [{"cut": 10}, {"cut": 60}]},
                         "mark": {"type": "rule", "strokeDash": [9, 6], "strokeWidth": 2, "color": "#231f20"},
                         "encoding": {"y": {"field": "cut", "type": "quantitative", "scale": {"domain": [0, 10, 60, 110], "range": [264, 156, 135, 0], "zero": false, "nice": false}, "axis": {"values": [0, 5, 10, 60, 80, 100], "domainDash": [108, 21, 108, 100], "title": "Freq of matB", "titleY": 145.5}}}},
                        {"data": {"name": "pts"}, "transform": [{"filter": "datum.tissue == 'Spleen' && datum.panel == 'matB' && datum.chain != 'κ⁻/λ⁻'"}],
                         "mark": {"type": "tick", "size": 45, "thickness": 2, "color": "#231f20"},
                         "encoding": {"x": {"field": "group", "type": "nominal", "scale": {"domain": ["κ-light chain|wild-type", "κ-light chain|Y223F", "λ-light chain|wild-type", "λ-light chain|Y223F"], "paddingInner": 0, "paddingOuter": 0.05}, "axis": {"values": ["κ-light chain|wild-type", "λ-light chain|wild-type"], "labelExpr": "split(datum.value, '|')[0]", "tickOffset": 36.7, "title": null}},
                                      "y": {"aggregate": "mean", "field": "value", "type": "quantitative"}}},
                        {"data": {"name": "pts"}, "transform": [{"filter": "datum.tissue == 'Spleen' && datum.panel == 'matB' && datum.chain != 'κ⁻/λ⁻'"}],
                         "mark": {"type": "point", "shape": "circle", "size": 120, "strokeWidth": 2.5, "opacity": 1},
                         "encoding": {"x": {"field": "group", "type": "nominal"}, "xOffset": {"field": "mouse", "type": "nominal", "scale": {"range": [20.5, 53], "paddingInner": 0, "paddingOuter": 0}}, "y": {"field": "value", "type": "quantitative"},
                                      "stroke": {"field": "genotype", "type": "nominal", "scale": {"domain": ["wild-type", "Y223F"], "range": ["#1d5a94", "#c41230"]}, "legend": null},
                                      "fill": {"field": "genotype", "type": "nominal", "scale": {"domain": ["wild-type", "Y223F"], "range": ["transparent", "#c41230"]}, "legend": null}}}
                      ]
                    },
                    {
                      "width": 159, "height": 264,
                      "layer": [
                        {"data": {"name": "pts"}, "transform": [{"filter": "datum.tissue == 'Spleen' && datum.panel == 'matB' && datum.chain == 'κ⁻/λ⁻'"}],
                         "mark": {"type": "tick", "size": 45, "thickness": 2, "color": "#231f20"},
                         "encoding": {"x": {"field": "group", "type": "nominal", "scale": {"domain": ["κ⁻/λ⁻|wild-type", "κ⁻/λ⁻|Y223F"], "paddingInner": 0, "paddingOuter": 0.19}, "axis": {"values": ["κ⁻/λ⁻|wild-type"], "labelExpr": "split(datum.value, '|')[0]", "tickOffset": 33.4, "title": null}},
                                      "y": {"aggregate": "mean", "field": "value", "type": "quantitative", "scale": {"domain": [0, 100, 110], "range": [264, 27, 0], "zero": false, "nice": false}, "axis": {"values": [0, 20, 40, 60, 80, 100], "domainDash": [237, 100], "title": null}}}},
                        {"data": {"name": "pts"}, "transform": [{"filter": "datum.tissue == 'Spleen' && datum.panel == 'matB' && datum.chain == 'κ⁻/λ⁻'"}],
                         "mark": {"type": "point", "shape": "circle", "size": 120, "strokeWidth": 2.5, "opacity": 1},
                         "encoding": {"x": {"field": "group", "type": "nominal"}, "xOffset": {"field": "mouse", "type": "nominal", "scale": {"range": [17.6, 49.1], "paddingInner": 0, "paddingOuter": 0}}, "y": {"field": "value", "type": "quantitative"},
                                      "stroke": {"field": "genotype", "type": "nominal", "scale": {"domain": ["wild-type", "Y223F"], "range": ["#1d5a94", "#c41230"]}, "legend": null},
                                      "fill": {"field": "genotype", "type": "nominal", "scale": {"domain": ["wild-type", "Y223F"], "range": ["transparent", "#c41230"]}, "legend": null}}}
                      ]
                    }
                  ]
                }
              ]
            }
          ]
        }
      ]
    }
  ],
  "config": {
    "font": "Liberation Sans",
    "view": {"stroke": null},
    "axis": {"domainColor": "#231f20", "domainWidth": 2.5, "tickColor": "#231f20", "tickWidth": 2, "tickSize": 8, "labelColor": "#231f20", "labelFontSize": 19, "titleColor": "#231f20", "titleFontSize": 18, "titleFontWeight": "normal", "grid": false, "labelFlush": false, "labelOverlap": false},
    "axisX": {"labelAngle": 0, "labelFontSize": 19, "labelPadding": 8},
    "axisY": {"labelPadding": 5, "titlePadding": 16},
    "title": {"color": "#231f20", "anchor": "start", "font": "Liberation Sans"},
    "legend": {"labelFont": "Liberation Sans"}
  }
}
